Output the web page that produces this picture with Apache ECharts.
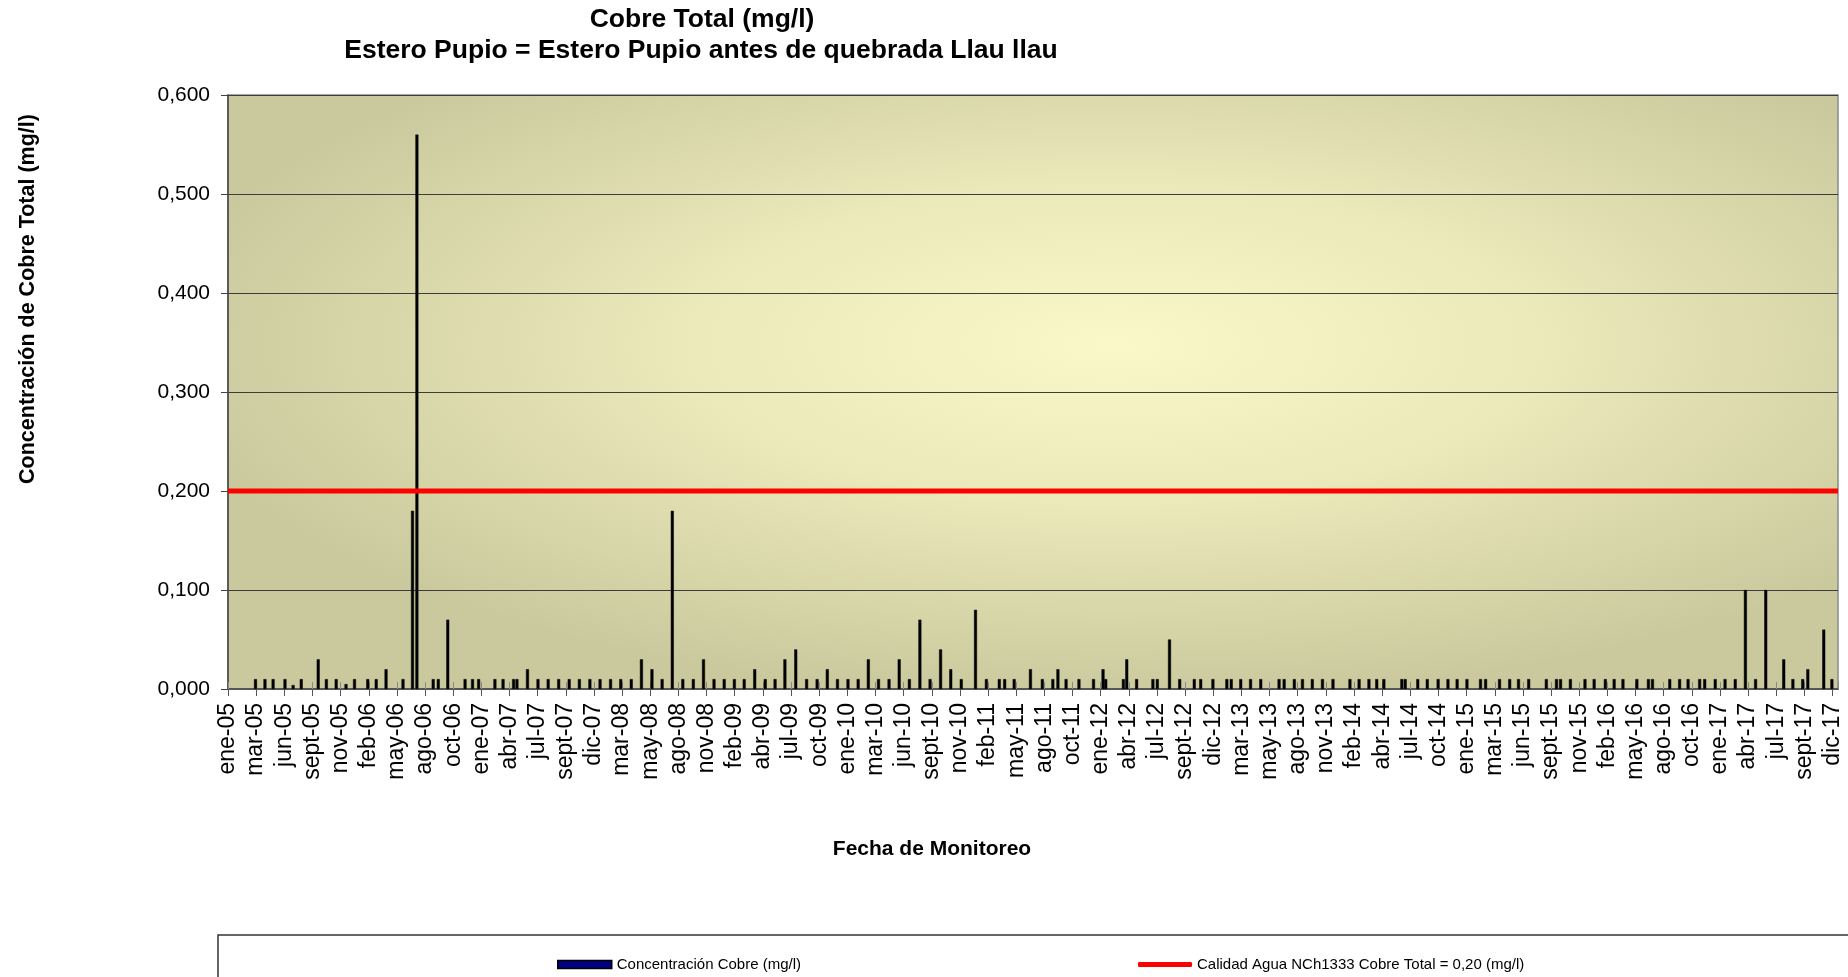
<!DOCTYPE html>
<html>
<head>
<meta charset="utf-8">
<title>Cobre Total (mg/l)</title>
<script src="https://cdn.jsdelivr.net/npm/echarts@6/dist/echarts.min.js"></script>
<style>
    html, body { margin: 0; padding: 0; background: #fff; }
    #chart { width: 1848px; height: 977px; }
</style>
</head>
<body>
<div id="chart"></div>
<script>
// Fechas de muestreo y concentración de cobre total (mg/l)
const sampleDates = [
    '2005-03-23', '2005-04-20', '2005-05-14', '2005-06-18', '2005-07-12', '2005-08-05',
    '2005-09-24', '2005-10-18', '2005-11-16', '2005-12-15', '2006-01-09', '2006-02-17',
    '2006-03-14', '2006-04-12', '2006-06-01', '2006-06-29', '2006-07-12', '2006-08-29',
    '2006-09-13', '2006-10-11', '2006-12-01', '2006-12-23', '2007-01-10', '2007-02-27',
    '2007-03-23', '2007-04-23', '2007-05-03', '2007-06-03', '2007-07-04', '2007-08-03',
    '2007-09-03', '2007-10-04', '2007-11-03', '2007-12-04', '2008-01-03', '2008-02-03',
    '2008-03-04', '2008-04-04', '2008-05-04', '2008-06-04', '2008-07-04', '2008-08-03',
    '2008-09-03', '2008-10-04', '2008-11-03', '2008-12-04', '2009-01-03', '2009-02-02',
    '2009-03-03', '2009-04-03', '2009-05-04', '2009-06-02', '2009-07-01', '2009-08-02',
    '2009-09-03', '2009-10-04', '2009-11-03', '2009-12-03', '2010-01-03', '2010-02-02',
    '2010-03-04', '2010-04-03', '2010-05-04', '2010-06-03', '2010-07-03', '2010-08-03',
    '2010-09-02', '2010-10-03', '2010-11-02', '2010-12-03', '2011-01-14', '2011-02-15',
    '2011-03-25', '2011-04-10', '2011-05-08', '2011-06-25', '2011-07-30', '2011-08-30',
    '2011-09-14', '2011-10-08', '2011-11-15', '2011-12-28', '2012-01-25', '2012-02-02',
    '2012-03-25', '2012-04-04', '2012-05-03', '2012-06-20', '2012-07-03', '2012-08-08',
    '2012-09-07', '2012-10-20', '2012-11-08', '2012-12-14', '2013-01-24', '2013-02-06',
    '2013-03-06', '2013-04-04', '2013-05-04', '2013-06-27', '2013-07-12', '2013-08-11',
    '2013-09-04', '2013-10-03', '2013-11-02', '2013-12-03', '2014-01-22', '2014-02-18',
    '2014-03-19', '2014-04-11', '2014-05-02', '2014-06-24', '2014-07-04', '2014-08-10',
    '2014-09-07', '2014-10-09', '2014-11-07', '2014-12-04', '2015-01-02', '2015-02-11',
    '2015-02-26', '2015-04-08', '2015-05-08', '2015-06-03', '2015-07-03', '2015-08-24',
    '2015-09-23', '2015-10-05', '2015-11-03', '2015-12-16', '2016-01-12', '2016-02-14',
    '2016-03-11', '2016-04-06', '2016-05-17', '2016-06-20', '2016-07-02', '2016-08-22',
    '2016-09-20', '2016-10-15', '2016-11-18', '2016-12-03', '2017-01-03', '2017-02-01',
    '2017-03-03', '2017-04-02', '2017-05-02', '2017-06-01', '2017-07-24', '2017-08-20',
    '2017-09-18', '2017-10-03', '2017-11-19', '2017-12-13'
];

const cobreValues = [
    0.01, 0.01, 0.01, 0.01, 0.004, 0.01,
    0.03, 0.01, 0.01, 0.005, 0.01, 0.01,
    0.01, 0.02, 0.01, 0.18, 0.56, 0.01,
    0.01, 0.07, 0.01, 0.01, 0.01, 0.01,
    0.01, 0.01, 0.01, 0.02, 0.01, 0.01,
    0.01, 0.01, 0.01, 0.01, 0.01, 0.01,
    0.01, 0.01, 0.03, 0.02, 0.01, 0.18,
    0.01, 0.01, 0.03, 0.01, 0.01, 0.01,
    0.01, 0.02, 0.01, 0.01, 0.03, 0.04,
    0.01, 0.01, 0.02, 0.01, 0.01, 0.01,
    0.03, 0.01, 0.01, 0.03, 0.01, 0.07,
    0.01, 0.04, 0.02, 0.01, 0.08, 0.01,
    0.01, 0.01, 0.01, 0.02, 0.01, 0.01,
    0.02, 0.01, 0.01, 0.01, 0.02, 0.01,
    0.01, 0.03, 0.01, 0.01, 0.01, 0.05,
    0.01, 0.01, 0.01, 0.01, 0.01, 0.01,
    0.01, 0.01, 0.01, 0.01, 0.01, 0.01,
    0.01, 0.01, 0.01, 0.01, 0.01, 0.01,
    0.01, 0.01, 0.01, 0.01, 0.01, 0.01,
    0.01, 0.01, 0.01, 0.01, 0.01, 0.01,
    0.01, 0.01, 0.01, 0.01, 0.01, 0.01,
    0.01, 0.01, 0.01, 0.01, 0.01, 0.01,
    0.01, 0.01, 0.01, 0.01, 0.01, 0.01,
    0.01, 0.01, 0.01, 0.01, 0.01, 0.01,
    0.01, 0.10, 0.01, 0.10, 0.03, 0.01,
    0.01, 0.02, 0.06, 0.01
];

// Norma NCh1333 para cobre total
const limitValue = 0.20;

// Eje de fechas: inicio, fin y marca cada 83 días
const axisStart = '2005-01-01';
const axisEnd = '2017-12-31';
const tickDays = 83;
const monthNames = ['ene', 'feb', 'mar', 'abr', 'may', 'jun', 'jul', 'ago', 'sept', 'oct', 'nov', 'dic'];

const DAY_MS = 86400000;
const day0 = Date.parse(axisStart);
const toDay = d => Math.round((Date.parse(d) - day0) / DAY_MS);
const axisMax = toDay(axisEnd);

const FONT = '"Liberation Sans", Arial, sans-serif';

// Área de trazado
const plot = { left: 228, top: 95, right: 1838, bottom: 689 };
const plotW = plot.right - plot.left;
const plotH = plot.bottom - plot.top;

function dateLabel(v) {
    const k = v / tickDays;
    if (Math.abs(k - Math.round(k)) > 1e-6) return '';
    const d = new Date(day0 + v * DAY_MS);
    return monthNames[d.getUTCMonth()] + '-' + String(d.getUTCFullYear()).slice(2);
}

const chart = echarts.init(document.getElementById('chart'));

const option = {
    backgroundColor: '#ffffff',
    animation: false,
    textStyle: { fontFamily: FONT },
    graphic: [
        // fondo degradado del área de trazado
        {
            type: 'rect',
            z: -10,
            x: plot.left,
            y: plot.top,
            scaleX: plotW / plotH,
            shape: { x: 0, y: 0, width: plotH, height: plotH },
            style: {
                fill: {
                    type: 'radial', x: 0.55, y: 0.42, r: 0.6,
                    colorStops: [
                        { offset: 0, color: '#faf7c9' },
                        { offset: 0.45, color: '#ebe8ba' },
                        { offset: 1, color: '#c9c99d' }
                    ]
                }
            },
            silent: true
        },
        // recuadro de la leyenda
        {
            type: 'rect',
            z: -5,
            shape: { x: 218, y: 935, width: 1700, height: 100 },
            style: { fill: '#ffffff', stroke: '#333333', lineWidth: 1.5 },
            silent: true
        },
        {
            type: 'text',
            x: 702, y: 20,
            style: {
                text: 'Cobre Total (mg/l)',
                font: 'bold 26.5px ' + FONT,
                fill: '#000',
                textAlign: 'center',
                textVerticalAlign: 'middle'
            }
        },
        {
            type: 'text',
            x: 701, y: 51,
            style: {
                text: 'Estero Pupio = Estero Pupio antes de quebrada Llau llau',
                font: 'bold 26.5px ' + FONT,
                fill: '#000',
                textAlign: 'center',
                textVerticalAlign: 'middle'
            }
        },
        {
            type: 'text',
            x: 28, y: 299,
            rotation: Math.PI / 2,
            style: {
                text: 'Concentración de Cobre Total (mg/l)',
                font: 'bold 21.5px ' + FONT,
                fill: '#000',
                textAlign: 'center',
                textVerticalAlign: 'middle'
            }
        },
        {
            type: 'text',
            x: 932, y: 849,
            style: {
                text: 'Fecha de Monitoreo',
                font: 'bold 21px ' + FONT,
                fill: '#000',
                textAlign: 'center',
                textVerticalAlign: 'middle'
            }
        }
    ],
    legend: [
        {
            data: [{
                name: 'Concentración Cobre (mg/l)',
                itemStyle: { color: '#000080', borderColor: '#000000', borderWidth: 1.5 }
            }],
            left: 557,
            top: 957,
            padding: 0,
            itemWidth: 54,
            itemHeight: 8,
            icon: 'rect',
            textStyle: { fontSize: 15, color: '#000', fontFamily: FONT }
        },
        {
            data: ['Calidad Agua NCh1333 Cobre Total = 0,20 (mg/l)'],
            left: 1138,
            top: 957,
            padding: 0,
            itemWidth: 54,
            itemHeight: 5,
            icon: 'roundRect',
            textStyle: { fontSize: 15, color: '#000', fontFamily: FONT }
        }
    ],
    grid: {
        left: plot.left,
        top: plot.top,
        width: plotW,
        height: plotH,
        show: true,
        backgroundColor: 'transparent',
        borderColor: '#8a8a8a',
        borderWidth: 1.5
    },
    xAxis: [
        {
            type: 'value',
            min: 0,
            max: axisMax,
            interval: tickDays,
            axisLine: { show: true, onZero: false, lineStyle: { color: '#555', width: 2 } },
            axisTick: { show: true, length: 7, lineStyle: { color: '#555', width: 1 } },
            axisLabel: {
                rotate: 90,
                margin: 14,
                fontSize: 23,
                color: '#000',
                fontFamily: FONT,
                showMaxLabel: false,
                formatter: dateLabel
            },
            splitLine: { show: false }
        },
        {
            // marcas que cruzan el eje (parte interior)
            type: 'value',
            position: 'bottom',
            min: 0,
            max: axisMax,
            interval: tickDays,
            axisLine: { show: false },
            axisTick: { show: true, inside: true, length: 7, lineStyle: { color: '#8a8a8a', width: 1 } },
            axisLabel: { show: false },
            splitLine: { show: false }
        }
    ],
    yAxis: {
        type: 'value',
        min: 0,
        max: 0.6,
        interval: 0.1,
        axisLine: { show: true, lineStyle: { color: '#444', width: 1.5 } },
        axisTick: { show: true, length: 7, lineStyle: { color: '#444' } },
        axisLabel: {
            margin: 18,
            fontSize: 21,
            color: '#000',
            fontFamily: FONT,
            formatter: v => v.toFixed(3).replace('.', ',')
        },
        splitLine: { show: true, lineStyle: { color: '#3c3c3c', width: 1.2 } }
    },
    series: [
        {
            name: 'Concentración Cobre (mg/l)',
            type: 'bar',
            barWidth: 3,
            itemStyle: { color: '#000000', borderColor: '#000000', borderWidth: 0.5 },
            data: sampleDates.map((d, i) => [toDay(d), cobreValues[i]])
        },
        {
            name: 'Calidad Agua NCh1333 Cobre Total = 0,20 (mg/l)',
            type: 'line',
            symbol: 'none',
            z: 3,
            lineStyle: { color: '#ff0000', width: 5 },
            itemStyle: { color: '#ff0000' },
            data: [[0, limitValue], [axisMax, limitValue]]
        }
    ]
};

chart.setOption(option);
</script>
</body>
</html>
